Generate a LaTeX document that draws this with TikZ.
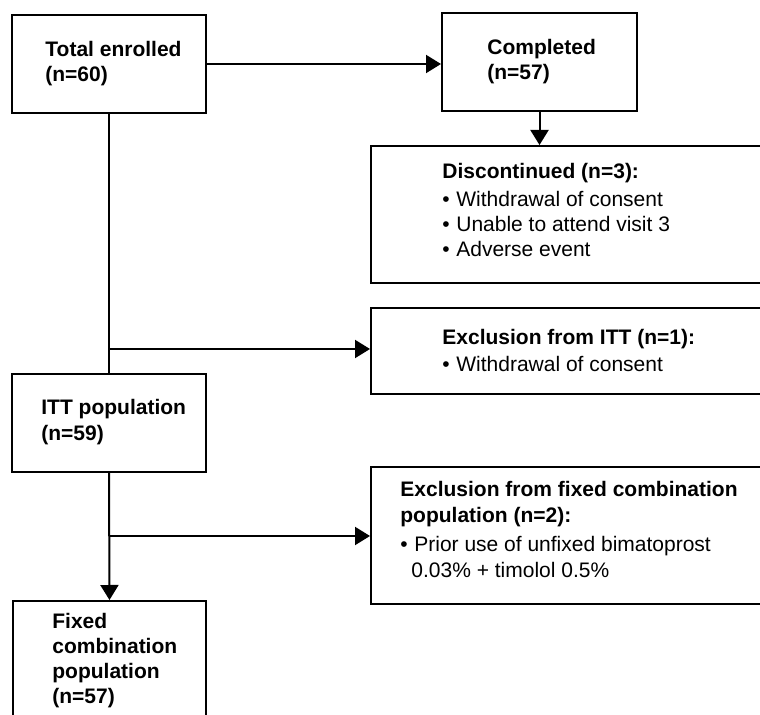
\documentclass[tikz,border=0pt]{standalone}
\usepackage{fontspec}
\setmainfont{Liberation Sans}
\usetikzlibrary{arrows.meta}
\begin{document}
\begin{tikzpicture}[x=0.5pt,y=-0.5pt,
  box/.style={draw=black, line width=1pt, rectangle, inner sep=0pt, anchor=north west},
  lbl/.style={anchor=base west, inner sep=0pt, font=\fontsize{10.5pt}{12.5pt}\selectfont},
  hd/.style={lbl, font=\fontsize{10.5pt}{12.5pt}\selectfont\bfseries},
  conn/.style={line width=1pt, draw=black},
  arr/.style={conn, -{Triangle[length=7.5pt,width=9pt]}}]
\useasboundingbox (0,0) rectangle (760,715);
\clip (0,0) rectangle (760,715);
% boxes
\node[box, minimum width=97pt, minimum height=49pt] (tot) at (11,14) {};
\node[box, minimum width=97.5pt, minimum height=49pt] (comp) at (441,12) {};
\node[box, minimum width=215pt, minimum height=68.5pt] (disc) at (370,145) {};
\node[box, minimum width=215pt, minimum height=43pt] (exitt) at (370,307) {};
\node[box, minimum width=97pt, minimum height=49pt] (itt) at (11,373) {};
\node[box, minimum width=215pt, minimum height=68.5pt] (exfix) at (370,466) {};
\node[box, minimum width=96.5pt, minimum height=80pt] (fix) at (12,600) {};
% texts
\node[hd] (t1) at (45,57) {Total enrolled};
\node[hd] (t2) at (45,82) {(n=60)};
\node[hd] (c1) at (487,55) {Completed};
\node[hd] (c2) at (487,80) {(n=57)};
\node[hd] (d0) at (442,179) {Discontinued (n=3):};
\node[lbl] (d1) at (442,207) {•\hspace{3.3pt}Withdrawal of consent};
\node[lbl] (d2) at (442,232) {•\hspace{3.3pt}Unable to attend visit 3};
\node[lbl] (d3) at (442,257) {•\hspace{3.3pt}Adverse event};
\node[hd] (e0) at (442,345) {Exclusion from ITT (n=1):};
\node[lbl] (e1) at (442,372) {•\hspace{3.3pt}Withdrawal of consent};
\node[hd] (i1) at (41,415) {ITT population};
\node[hd] (i2) at (41,441) {(n=59)};
\node[hd] (f0) at (400,497) {Exclusion from fixed combination};
\node[hd] (f1) at (400,523) {population (n=2):};
\node[lbl] (f2) at (400,552) {•\hspace{3.3pt}Prior use of unfixed bimatoprost};
\node[lbl] (f3) at (411,577) {0.03\% + timolol 0.5\%};
\node[hd] (x1) at (52,628) {Fixed};
\node[hd] (x2) at (52,653) {combination};
\node[hd] (x3) at (52,678) {population};
\node[hd] (x4) at (52,703) {(n=57)};
% connectors
\draw[arr] (tot.east) -- (tot.east -| comp.west);
\draw[arr] (comp.south) -- (comp.south |- disc.north);
\draw[conn] (tot.south) -- (itt.north);
\path (tot.south) ++(0,235) coordinate (b1);
\draw[arr] (b1) -- (b1 -| exitt.west);
\draw[arr] (itt.south) -- (fix.north);
\path (itt.south) ++(0,63) coordinate (b2);
\draw[arr] (b2) -- (b2 -| exfix.west);
\end{tikzpicture}
\end{document}
